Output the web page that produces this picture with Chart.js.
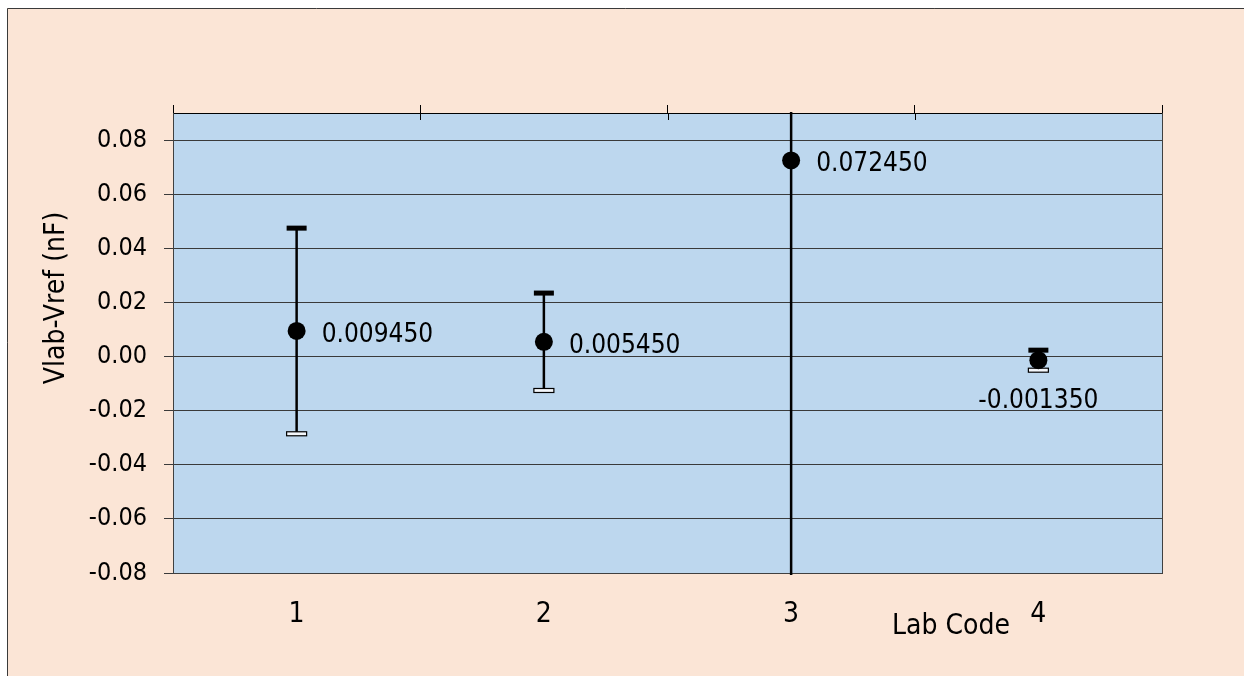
<!DOCTYPE html>
<html><head><meta charset="utf-8">
<script src="https://cdn.jsdelivr.net/npm/chart.js@4.4.1/dist/chart.umd.min.js"></script>
<style>
html,body{margin:0;padding:0;background:#fff;overflow:hidden;width:1244px;height:676px;}
#wrap{position:absolute;left:0;top:0;width:1244px;height:676px;}
canvas{display:block;}
</style></head><body>
<div id="wrap"><canvas id="c" width="1244" height="676"></canvas></div>
<script>
// ---- data ----
const labCodes = ['1', '2', '3', '4'];
const deviations = [0.00945, 0.00545, 0.07245, -0.00135];
const uncertainties = [0.038, 0.018, 0.18, 0.0037];
const yTickValues = [-0.08, -0.06, -0.04, -0.02, 0, 0.02, 0.04, 0.06, 0.08];
const yMin = -0.08, yMax = 0.09;
const xTitle = 'Lab Code';
const yTitle = 'Vlab-Vref (nF)';

const FONT = "'DejaVu Sans Condensed', 'DejaVu Sans', sans-serif";

const backgrounds = {
  id: 'backgrounds',
  beforeDraw(chart) {
    const {ctx, chartArea: a, width, height} = chart;
    ctx.save();
    ctx.fillStyle = '#FFFFFF';
    ctx.fillRect(0, 0, width, height);
    ctx.fillStyle = '#FBE5D6';
    ctx.fillRect(7, 8, width - 7, height - 8);
    ctx.strokeStyle = '#3a3a3a';
    ctx.lineWidth = 1;
    ctx.beginPath();
    ctx.moveTo(7.5, height); ctx.lineTo(7.5, 8.5); ctx.lineTo(width, 8.5);
    ctx.stroke();
    ctx.fillStyle = '#BDD7EE';
    ctx.fillRect(a.left, a.top, a.right - a.left, a.bottom - a.top);
    ctx.restore();
  }
};

const errorBars = {
  id: 'errorBars',
  beforeDatasetsDraw(chart) {
    const {ctx, chartArea: a, scales: {x, y}} = chart;
    ctx.save();
    ctx.beginPath();
    ctx.rect(a.left, a.top - 1, a.right - a.left, a.bottom - a.top + 3);
    ctx.clip();
    deviations.forEach((v, i) => {
      const px = x.getPixelForValue(i);
      const yt = y.getPixelForValue(v + uncertainties[i]);
      const yb = y.getPixelForValue(v - uncertainties[i]);
      ctx.strokeStyle = '#000';
      ctx.lineWidth = 2.5;
      ctx.beginPath(); ctx.moveTo(px, yt); ctx.lineTo(px, yb); ctx.stroke();
      ctx.fillStyle = '#000';
      ctx.fillRect(px - 10, yt - 2.5, 20, 5);
      ctx.fillStyle = '#F4F7FB';
      ctx.fillRect(px - 10, yb - 2, 20, 4);
      ctx.lineWidth = 1.2;
      ctx.strokeRect(px - 10, yb - 2, 20, 4);
    });
    ctx.restore();
  }
};

const valueLabels = {
  id: 'valueLabels',
  afterDatasetsDraw(chart, args, opts) {
    const {ctx} = chart;
    const meta = chart.getDatasetMeta(0);
    ctx.save();
    ctx.fillStyle = '#000';
    ctx.font = '26px ' + FONT;
    ctx.textBaseline = 'alphabetic';
    meta.data.forEach((pt, i) => {
      const txt = deviations[i].toFixed(6);
      if (opts.placement[i] === 'below') {
        ctx.textAlign = 'center';
        ctx.fillText(txt, pt.x, pt.y + 48);
      } else {
        ctx.textAlign = 'left';
        ctx.fillText(txt, pt.x + 25, pt.y + 11);
      }
    });
    ctx.restore();
  }
};

const axisDecor = {
  id: 'axisDecor',
  afterDraw(chart) {
    const {ctx, chartArea: a} = chart;
    const xt = chart.scales.xTop;
    ctx.save();
    // inner halves of the crossing tick marks on the top category axis
    ctx.strokeStyle = '#000';
    ctx.lineWidth = 1;
    for (let i = 0; i < labCodes.length - 1; i++) {
      const bx = Math.round((xt.getPixelForValue(i) + xt.getPixelForValue(i + 1)) / 2) + 0.5;
      ctx.beginPath(); ctx.moveTo(bx, a.top); ctx.lineTo(bx, a.top + 7); ctx.stroke();
    }
    // axis titles
    ctx.fillStyle = '#000';
    ctx.font = '28px ' + FONT;
    ctx.textAlign = 'left';
    ctx.textBaseline = 'alphabetic';
    ctx.fillText(xTitle, a.right - 270, a.bottom + 61);
    ctx.translate(a.left - 116, a.top + 185);
    ctx.rotate(-Math.PI / 2);
    ctx.textAlign = 'center';
    ctx.textBaseline = 'middle';
    ctx.fillText(yTitle, 0, 0);
    ctx.restore();
  }
};

new Chart(document.getElementById('c'), {
  data: {
    labels: labCodes,
    datasets: [{
      type: 'line',
      data: deviations,
      showLine: false,
      pointRadius: 9,
      pointHoverRadius: 9,
      pointBackgroundColor: '#000',
      pointBorderColor: '#000',
      pointBorderWidth: 0,
      xAxisID: 'x',
      yAxisID: 'y',
      clip: false
    }]
  },
  options: {
    responsive: false,
    animation: false,
    devicePixelRatio: 1,
    events: [],
    layout: {padding: {left: 0, top: 0, right: 82, bottom: 0}},
    plugins: {
      legend: {display: false},
      tooltip: {enabled: false},
      valueLabels: {placement: ['right', 'right', 'right', 'below']}
    },
    scales: {
      x: {
        type: 'category', position: 'bottom', offset: true,
        grid: {display: false, drawTicks: false},
        border: {display: true, color: '#404040', width: 1},
        ticks: {color: '#000', font: {family: FONT, size: 28}, padding: 25, maxRotation: 0, autoSkip: false},
        afterFit(s) { s.height = 103; }
      },
      xTop: {
        type: 'category', position: 'top', offset: true,
        grid: {offset: true, drawOnChartArea: false, drawTicks: true, tickLength: 8, color: '#000', lineWidth: 1},
        border: {display: true, color: '#000', width: 1},
        ticks: {display: false},
        afterFit(s) { s.height = 113; }
      },
      y: {
        type: 'linear', position: 'left', min: yMin, max: yMax,
        afterBuildTicks(s) { s.ticks = yTickValues.map(v => ({value: v})); },
        grid: {color: '#3a3a3a', lineWidth: 1, tickLength: 9},
        border: {display: true, color: '#404040', width: 1},
        ticks: {color: '#000', font: {family: FONT, size: 25}, padding: 17, callback: v => Number(v).toFixed(2)},
        afterFit(s) { s.width = 173; }
      },
      yRight: {
        type: 'linear', position: 'right', min: yMin, max: yMax, display: true,
        grid: {display: false, drawTicks: false},
        border: {display: true, color: '#404040', width: 1},
        ticks: {display: false},
        afterFit(s) { s.width = 0; }
      }
    }
  },
  plugins: [backgrounds, errorBars, valueLabels, axisDecor]
});
</script>
</body></html>
